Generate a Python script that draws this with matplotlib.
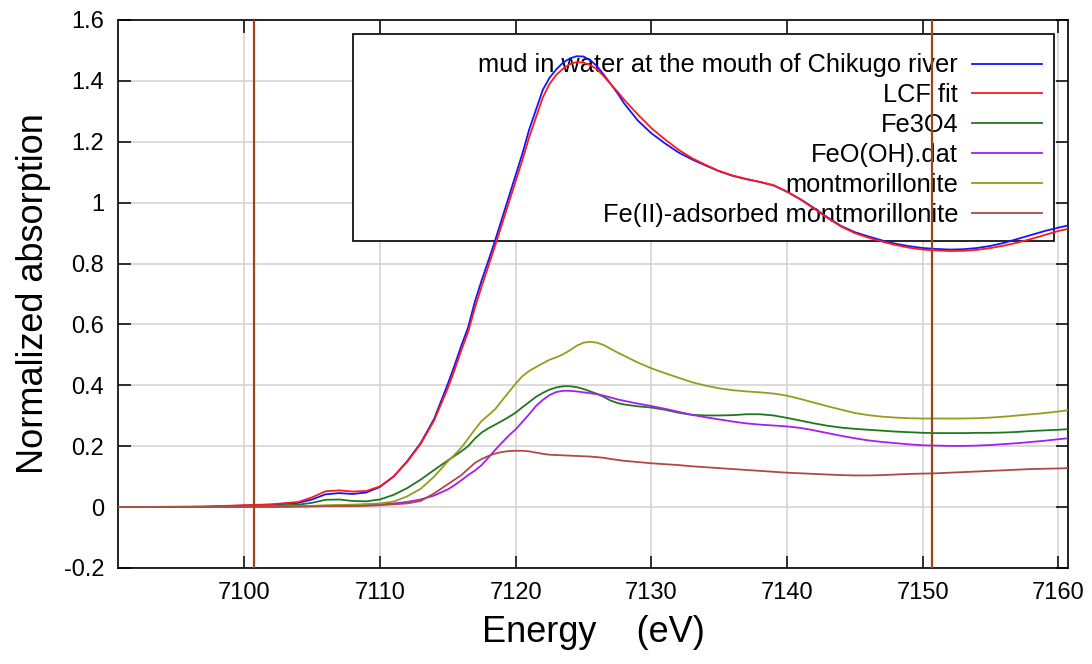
import matplotlib
matplotlib.use('Agg')
import matplotlib.pyplot as plt
from matplotlib.patches import Rectangle
import numpy as np

plt.rcParams['font.family'] = ['Liberation Sans', 'DejaVu Sans']

# energy grid (eV)
energy = [7090.7, 7094, 7097, 7100, 7102, 7104, 7105, 7106, 7107, 7108, 7109, 7110, 7111, 7112, 7113, 7114,
          7115, 7115.5, 7116, 7116.5, 7117, 7117.5, 7118, 7118.5, 7119, 7119.5, 7120, 7120.5, 7121, 7121.5,
          7122, 7122.5, 7123, 7123.5, 7124, 7124.5, 7125, 7125.5, 7126, 7126.5, 7127, 7127.5, 7128,
          7129, 7130, 7131, 7132, 7133, 7134, 7135, 7136, 7137, 7138, 7139, 7140, 7141, 7142, 7143, 7144,
          7145, 7146, 7147, 7148, 7149, 7150, 7151, 7152, 7153, 7154, 7155, 7156, 7157, 7158, 7159, 7160,
          7160.7]

mud = [0.0, 0.0, 0.001, 0.005, 0.008, 0.014, 0.025, 0.042, 0.046, 0.043, 0.048, 0.066, 0.1, 0.15, 0.21, 0.29,
       0.404, 0.465, 0.53, 0.59, 0.675, 0.745, 0.81, 0.877, 0.948, 1.019, 1.09, 1.161, 1.24, 1.305,
       1.37, 1.41, 1.438, 1.46, 1.474, 1.481, 1.48, 1.468, 1.448, 1.42, 1.39, 1.36, 1.326,
       1.27, 1.228, 1.195, 1.165, 1.142, 1.122, 1.103, 1.088, 1.077, 1.068, 1.057, 1.036, 1.011, 0.982, 0.951, 0.923,
       0.903, 0.889, 0.876, 0.865, 0.857, 0.851, 0.848, 0.846, 0.847, 0.851, 0.858, 0.868, 0.881, 0.894, 0.907, 0.918,
       0.925]

lcf = [0.0, 0.001, 0.002, 0.006, 0.009, 0.017, 0.032, 0.052, 0.055, 0.051, 0.053, 0.068, 0.1, 0.148, 0.207, 0.285,
       0.39, 0.45, 0.515, 0.575, 0.655, 0.725, 0.792, 0.86, 0.93, 1.0, 1.07, 1.14, 1.215, 1.28,
       1.345, 1.39, 1.42, 1.44, 1.455, 1.462, 1.46, 1.452, 1.438, 1.415, 1.39, 1.365, 1.338,
       1.29, 1.245, 1.208, 1.174, 1.146, 1.124, 1.104, 1.089, 1.078, 1.068, 1.057, 1.036, 1.01, 0.98, 0.949, 0.921,
       0.9, 0.885, 0.872, 0.861, 0.852, 0.846, 0.843, 0.841, 0.842, 0.845, 0.851, 0.859, 0.869, 0.881, 0.894, 0.907,
       0.914]

fe3o4 = [0.0, 0.0, 0.0, 0.002, 0.004, 0.008, 0.014, 0.024, 0.025, 0.02, 0.019, 0.025, 0.04, 0.062, 0.09, 0.122,
         0.153, 0.168, 0.183, 0.2, 0.225, 0.245, 0.259, 0.271, 0.283, 0.296, 0.31, 0.328, 0.345, 0.362,
         0.375, 0.386, 0.393, 0.397, 0.397, 0.394, 0.388, 0.38, 0.372, 0.362, 0.35, 0.342, 0.337,
         0.331, 0.327, 0.32, 0.31, 0.303, 0.301, 0.301, 0.302, 0.305, 0.305, 0.301, 0.293, 0.284, 0.275, 0.267, 0.261,
         0.257, 0.254, 0.251, 0.248, 0.246, 0.244, 0.243, 0.243, 0.243, 0.244, 0.244, 0.245, 0.247, 0.25, 0.252, 0.254,
         0.256]

feooh = [0.0, 0.0, 0.0, 0.0, 0.001, 0.002, 0.003, 0.004, 0.005, 0.006, 0.007, 0.009, 0.012, 0.017, 0.025, 0.038,
         0.058, 0.072, 0.088, 0.105, 0.12, 0.138, 0.163, 0.188, 0.212, 0.235, 0.255, 0.28, 0.305, 0.332,
         0.352, 0.368, 0.378, 0.382, 0.382, 0.38, 0.377, 0.374, 0.371, 0.366, 0.36, 0.354, 0.349,
         0.34, 0.332, 0.323, 0.313, 0.303, 0.295, 0.288, 0.281, 0.275, 0.271, 0.268, 0.265, 0.26, 0.252, 0.243, 0.234,
         0.226, 0.219, 0.214, 0.21, 0.206, 0.203, 0.202, 0.201, 0.201, 0.202, 0.204, 0.207, 0.21, 0.214, 0.218, 0.223,
         0.226]

montmor = [0.0, 0.0, 0.001, 0.001, 0.002, 0.003, 0.004, 0.006, 0.007, 0.008, 0.01, 0.012, 0.018, 0.035, 0.06, 0.1,
           0.15, 0.172, 0.195, 0.225, 0.255, 0.283, 0.302, 0.322, 0.35, 0.378, 0.405, 0.43, 0.447, 0.46,
           0.472, 0.484, 0.492, 0.502, 0.515, 0.53, 0.54, 0.543, 0.54, 0.532, 0.52, 0.508, 0.497,
           0.475, 0.456, 0.44, 0.425, 0.41, 0.399, 0.39, 0.384, 0.38, 0.377, 0.373, 0.366, 0.355, 0.343, 0.331, 0.32,
           0.309, 0.302, 0.297, 0.294, 0.292, 0.291, 0.291, 0.291, 0.291, 0.292, 0.294, 0.297, 0.301, 0.305, 0.309, 0.314,
           0.318]

fe2_montmor = [0.0, 0.0, 0.0, 0.001, 0.001, 0.002, 0.002, 0.003, 0.003, 0.003, 0.004, 0.006, 0.009, 0.012, 0.02, 0.045,
               0.075, 0.09, 0.105, 0.125, 0.145, 0.158, 0.168, 0.176, 0.181, 0.184, 0.185, 0.185, 0.183, 0.179,
               0.175, 0.172, 0.171, 0.17, 0.169, 0.168, 0.167, 0.166, 0.164, 0.162, 0.158, 0.155, 0.152,
               0.148, 0.144, 0.141, 0.138, 0.134, 0.131, 0.128, 0.125, 0.122, 0.119, 0.116, 0.113, 0.111, 0.109, 0.107, 0.105,
               0.104, 0.104, 0.105, 0.107, 0.109, 0.11, 0.111, 0.113, 0.115, 0.117, 0.119, 0.121, 0.123, 0.125, 0.126, 0.127,
               0.128]

labels = ['mud in water at the mouth of Chikugo river', 'LCF fit', 'Fe3O4', 'FeO(OH).dat',
          'montmorillonite', 'Fe(II)-adsorbed montmorillonite']
colors = ['#1414ff', '#ff1a1a', '#1e781e', '#a61ef0', '#9a9a1e', '#b04848']
fit_range = [7100.7, 7150.7]

fig = plt.figure(figsize=(10.92, 6.64), dpi=100)
ax = fig.add_axes([0.108, 0.1446, 0.870, 0.8253])

series = [mud, lcf, fe3o4, feooh, montmor, fe2_montmor]
for vals, lab, col in zip(series, labels, colors):
    ax.plot(energy, vals, color=col, lw=1.3, label=lab, zorder=3)

for e in fit_range:
    ax.axvline(e, color='#a0441c', lw=1.6, zorder=4)

ax.set_xlim(7090.7, 7160.7)
ax.set_ylim(-0.2, 1.6)
ax.set_xticks([7100, 7110, 7120, 7130, 7140, 7150, 7160])
ax.set_yticks(np.arange(-0.2, 1.61, 0.2))
ax.set_yticklabels(['-0.2', '0', '0.2', '0.4', '0.6', '0.8', '1', '1.2', '1.4', '1.6'])
ax.grid(True, color='#d4d4d4', lw=1.2)
ax.set_axisbelow(True)
ax.tick_params(direction='in', top=True, right=True, length=9, width=1.1,
               labelsize=17, pad=10)
for sp in ax.spines.values():
    sp.set_linewidth(1.2)

ax.set_xlabel('Energy    (eV)', fontsize=26, labelpad=8)
ax.set_ylabel('Normalized absorption', fontsize=26, labelpad=9)

# legend box (white, behind the curves)
ax.add_patch(Rectangle((0.2474, 0.5958), 0.7379, 0.3787, transform=ax.transAxes,
                       facecolor='white', edgecolor='black', lw=1.2, zorder=1))
leg = ax.legend(loc='upper right', bbox_to_anchor=(0.9726, 0.939), frameon=False,
                markerfirst=False, fontsize=18.3, handlelength=2.75, handletextpad=0.55,
                labelspacing=0.23, borderpad=0, borderaxespad=0)
leg.set_zorder(2)

fig.savefig('out.png', dpi=100)
